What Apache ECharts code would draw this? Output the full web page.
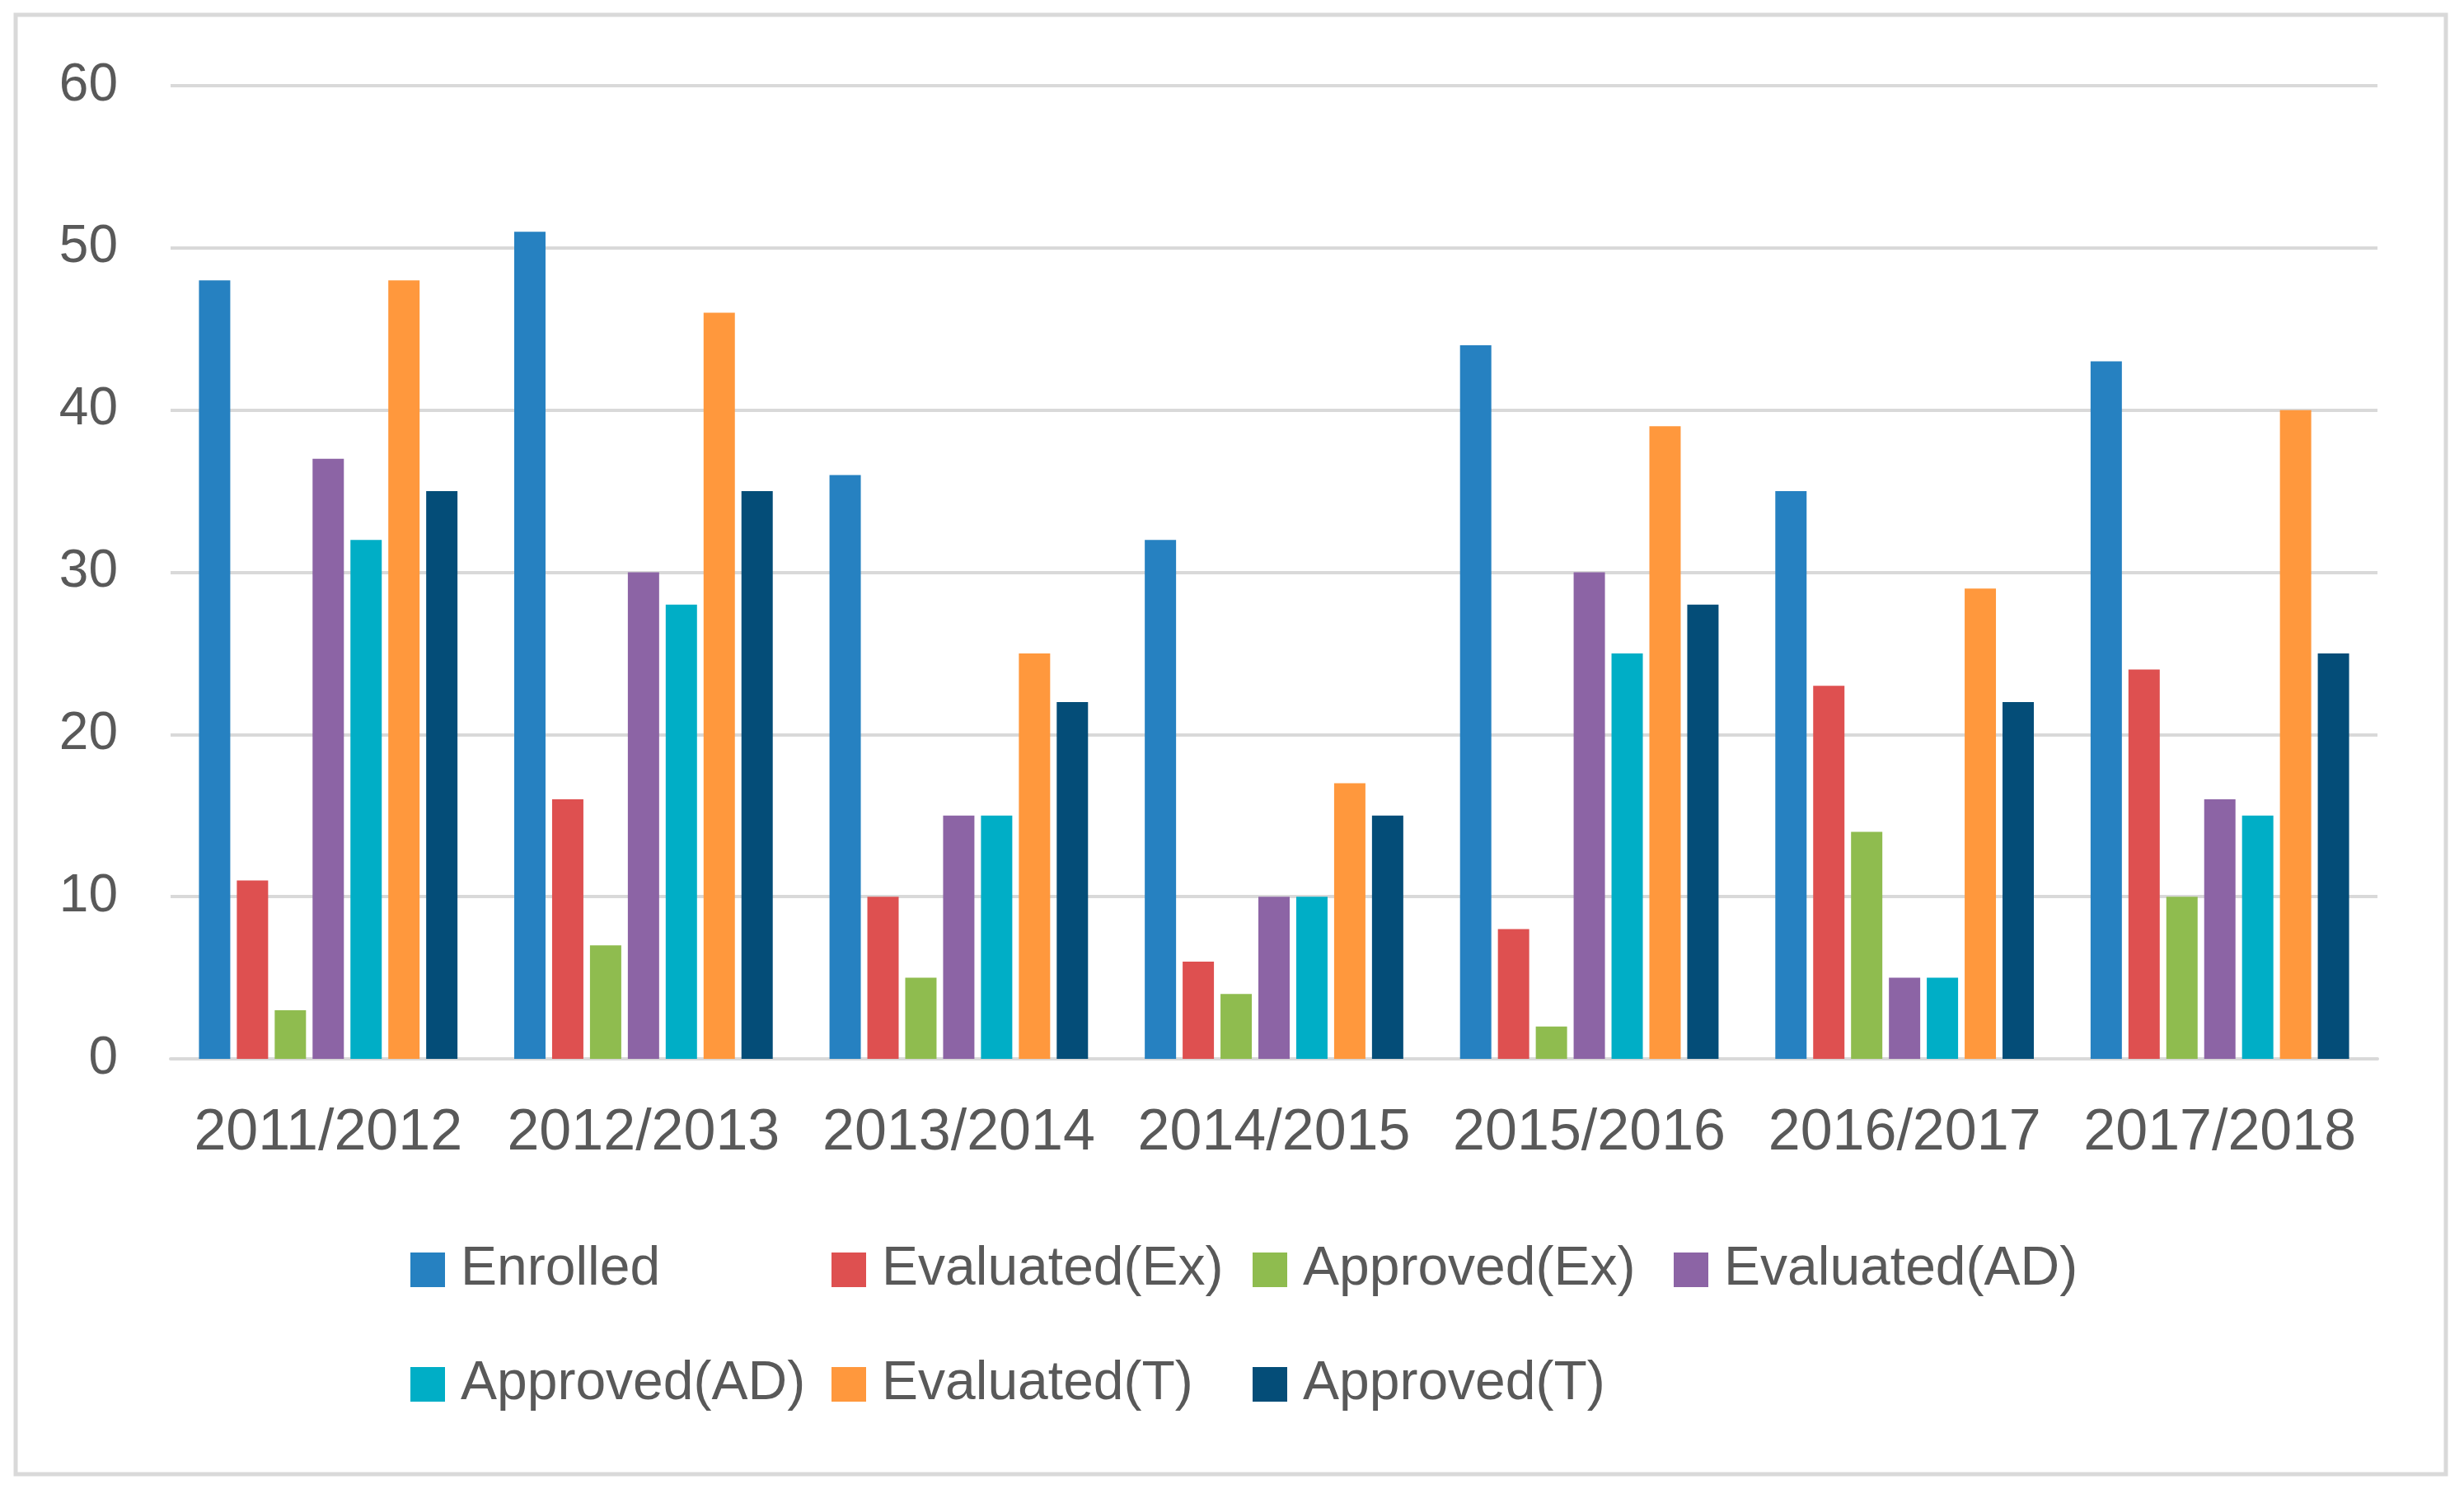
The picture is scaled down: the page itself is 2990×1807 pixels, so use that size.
<!DOCTYPE html>
<html>
<head>
<meta charset="utf-8">
<script src="https://cdn.jsdelivr.net/npm/echarts@6/dist/echarts.min.js"></script>
<style>
html,body{margin:0;padding:0;background:#fff;}
#chart{width:2990px;height:1807px;}
</style>
</head>
<body>
<div id="chart"></div>
<script>
const categories = ['2011/2012','2012/2013','2013/2014','2014/2015','2015/2016','2016/2017','2017/2018'];
const seriesNames = ['Enrolled','Evaluated(Ex)','Approved(Ex)','Evaluated(AD)','Approved(AD)','Evaluated(T)','Approved(T)'];
const enrolled     = [48, 51, 36, 32, 44, 35, 43];
const evaluatedEx  = [11, 16, 10, 6, 8, 23, 24];
const approvedEx   = [3, 7, 5, 4, 2, 14, 10];
const evaluatedAD  = [37, 30, 15, 10, 30, 5, 16];
const approvedAD   = [32, 28, 15, 10, 25, 5, 15];
const evaluatedT   = [48, 46, 25, 17, 39, 29, 40];
const approvedT    = [35, 35, 22, 15, 28, 22, 25];
const yTicks = [0, 10, 20, 30, 40, 50, 60];

const colors = ['#2681C1','#DE5050','#8FBC4F','#8C64A5','#00AEC6','#FF983D','#044D78'];
const values = [enrolled, evaluatedEx, approvedEx, evaluatedAD, approvedAD, evaluatedT, approvedT];

const FONT = 'Liberation Sans';
const textColor = '#595959';

const chart = echarts.init(document.getElementById('chart'), null, {renderer:'canvas'});

const legendBase = {
  orient: 'horizontal',
  icon: 'rect',
  itemWidth: 42,
  itemHeight: 42,
  itemGap: 0,
  selectedMode: false,
  textStyle: {
    color: textColor,
    fontFamily: FONT,
    fontSize: 66,
    lineHeight: 68,
    width: 450,
    padding: [0, 0, 0, 14]
  }
};

chart.setOption({
  animation: false,
  color: colors,
  graphic: [{
    type: 'rect',
    shape: {x: 19, y: 18, width: 2949, height: 1771},
    style: {fill: 'none', stroke: '#d9d9d9', lineWidth: 5},
    silent: true
  }],
  legend: [
    Object.assign({}, legendBase, {left: 493, top: 1502, data: seriesNames.slice(0,4)}),
    Object.assign({}, legendBase, {left: 493, top: 1641, data: seriesNames.slice(4)})
  ],
  grid: {left: 207, right: 105, top: 104, bottom: 522, containLabel: false},
  xAxis: {
    type: 'category',
    data: categories,
    axisLine: {show: true, lineStyle: {color: '#d9d9d9', width: 4}},
    axisTick: {show: false},
    axisLabel: {color: textColor, fontFamily: FONT, fontSize: 70, margin: 56, interval: 0}
  },
  yAxis: {
    type: 'value',
    min: yTicks[0],
    max: yTicks[yTicks.length-1],
    interval: 10,
    axisLine: {show: false},
    axisTick: {show: false},
    axisLabel: {color: textColor, fontFamily: FONT, fontSize: 64, margin: 64},
    splitLine: {lineStyle: {color: '#d9d9d9', width: 4}}
  },
  series: seriesNames.map((n, i) => ({
    name: n,
    type: 'bar',
    data: values[i],
    barGap: '21%',
    barCategoryGap: '18%',
    itemStyle: {color: colors[i]}
  }))
});
</script>
</body>
</html>
